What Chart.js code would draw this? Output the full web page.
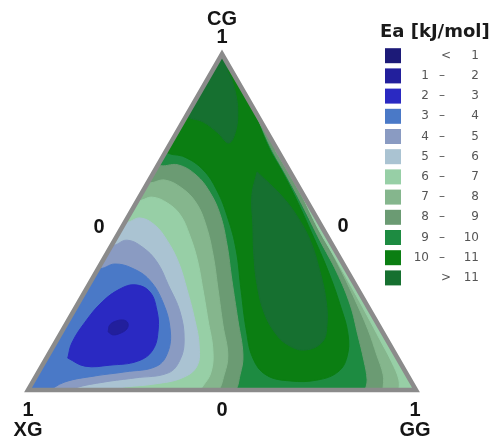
<!DOCTYPE html>
<html>
<head>
<meta charset="utf-8">
<script src="https://cdn.jsdelivr.net/npm/chart.js@4.4.0/dist/chart.umd.min.js"></script>
<style>
  html, body { margin: 0; padding: 0; background: #fff; }
  #wrap { width: 493px; height: 443px; }
</style>
</head>
<body>
<div id="wrap"><canvas id="myChart" width="493" height="443"></canvas></div>
<script>
// legend rows, top to bottom
var legendTitle = 'Ea [kJ/mol]';
var bandFrom = ['<', '1', '2', '3', '4', '5', '6', '7', '8', '9', '10', '>'];
var bandTo = ['1', '2', '3', '4', '5', '6', '7', '8', '9', '10', '11', '11'];
var bandColors = ['#1c1a78', '#221f9c', '#2a29c2', '#4a79c7', '#8a9bc2', '#aac3d2',
                  '#97cfa6', '#85b68d', '#6b9b73', '#1d8b41', '#0b7e12', '#167030'];

// corners (XG, GG, CG) and edge ticks
var cornerNames = ['XG', 'GG', 'CG'];
var cornerTick = '1';
var edgeTick = '0';

// contour regions, points are [GG, CG] (XG = 1 - GG - CG)
var triangle = [[0, 0], [1, 0], [0, 1]];
var edge89 = [[0.120, 0.878], [0.191, 0.804], [0.272, 0.714], [0.345, 0.640], [0.431, 0.551], [0.529, 0.446],
              [0.620, 0.351], [0.704, 0.253], [0.768, 0.164], [0.821, 0.089], [0.859, 0.030], [0.886, -0.030],
              [1.051, -0.030], [0.255, 0.893]];
var edge78 = [[0.280, 0.714], [0.355, 0.640], [0.434, 0.560], [0.529, 0.461], [0.622, 0.363], [0.709, 0.268],
              [0.787, 0.179], [0.847, 0.104], [0.893, 0.045], [0.938, -0.030], [1.051, -0.030], [0.380, 0.744]];
var edge67 = [[0.416, 0.580], [0.506, 0.482], [0.595, 0.393], [0.683, 0.304], [0.762, 0.223], [0.833, 0.149],
              [0.896, 0.083], [0.941, 0.030], [0.976, -0.030], [1.051, -0.030], [0.506, 0.595]];
var ridge10 = [[-0.098, 0.774], [0.002, 0.708], [0.058, 0.693], [0.124, 0.655], [0.189, 0.595], [0.259, 0.512],
               [0.328, 0.417], [0.400, 0.298], [0.473, 0.179], [0.532, 0.095], [0.591, 0.045], [0.662, 0.027],
               [0.732, 0.030], [0.772, 0.054], [0.773, 0.098], [0.743, 0.164], [0.678, 0.253], [0.594, 0.357],
               [0.503, 0.461], [0.410, 0.565], [0.331, 0.649], [0.261, 0.720], [0.194, 0.798], [0.140, 0.863],
               [0.089, 0.923], [0.025, 1.042], [-0.021, 1.042]];
var cap11 = [[-0.021, 1.042], [-0.053, 0.863], [0.002, 0.815], [0.052, 0.798], [0.107, 0.765], [0.150, 0.735],
             [0.149, 0.774], [0.124, 0.833], [0.097, 0.878], [0.064, 0.923], [0.036, 0.958], [0.025, 1.042]];
var ridge11 = [[0.266, 0.649], [0.300, 0.625], [0.362, 0.580], [0.431, 0.521], [0.504, 0.446], [0.573, 0.357],
               [0.634, 0.268], [0.674, 0.193], [0.687, 0.143], [0.654, 0.119], [0.603, 0.134], [0.552, 0.170],
               [0.492, 0.232], [0.434, 0.313], [0.381, 0.402], [0.334, 0.491], [0.287, 0.580], [0.266, 0.649]];
var basin9 = [[-0.135, 0.744], [0.000, 0.670], [0.052, 0.670], [0.113, 0.640], [0.174, 0.589], [0.235, 0.521],
              [0.297, 0.432], [0.362, 0.327], [0.437, 0.208], [0.502, 0.104], [0.524, 0.045], [0.534, -0.006],
              [0.497, -0.030], [-0.031, -0.030], [-0.076, 0.060]];
var basin8 = [[-0.105, 0.685], [-0.001, 0.619], [0.040, 0.625], [0.096, 0.601], [0.155, 0.557], [0.213, 0.491],
              [0.276, 0.402], [0.341, 0.298], [0.406, 0.193], [0.463, 0.104], [0.483, 0.045], [0.490, -0.006],
              [0.458, -0.030], [-0.031, -0.030], [-0.061, 0.030]];
var basin7 = [[-0.094, 0.610], [0.000, 0.565], [0.033, 0.574], [0.080, 0.557], [0.132, 0.521], [0.186, 0.461],
              [0.243, 0.387], [0.302, 0.298], [0.360, 0.208], [0.417, 0.119], [0.445, 0.054], [0.445, 0.012],
              [0.437, -0.015], [-0.031, -0.030], [-0.054, 0.015]];
var basin6 = [[-0.102, 0.551], [0.000, 0.500], [0.033, 0.512], [0.081, 0.491], [0.135, 0.446], [0.197, 0.381],
              [0.261, 0.298], [0.326, 0.208], [0.374, 0.134], [0.400, 0.071], [0.379, 0.036], [0.318, 0.018],
              [0.246, 0.009], [0.187, -0.003], [-0.031, -0.030], [-0.054, 0.015]];
var basin5 = [[-0.094, 0.482], [0.000, 0.432], [0.032, 0.446], [0.081, 0.426], [0.142, 0.381], [0.205, 0.313],
              [0.276, 0.232], [0.328, 0.149], [0.347, 0.089], [0.336, 0.051], [0.258, 0.036], [0.186, 0.024],
              [0.118, 0.006], [0.089, -0.015], [-0.031, -0.030], [-0.054, 0.015]];
var basin4 = [[-0.087, 0.417], [0.001, 0.363], [0.036, 0.375], [0.086, 0.363], [0.150, 0.327], [0.219, 0.259],
              [0.277, 0.179], [0.304, 0.113], [0.296, 0.071], [0.223, 0.054], [0.152, 0.042], [0.083, 0.024],
              [0.047, -0.006], [-0.031, -0.030], [-0.054, 0.015]];
var basin3 = [[0.055, 0.095], [0.043, 0.140], [0.046, 0.202], [0.060, 0.262], [0.087, 0.301], [0.120, 0.313],
              [0.168, 0.292], [0.213, 0.238], [0.246, 0.179], [0.262, 0.119], [0.240, 0.086], [0.174, 0.074],
              [0.111, 0.071], [0.055, 0.095]];
var basin2 = [[0.120, 0.173], [0.114, 0.193], [0.124, 0.205], [0.143, 0.208], [0.158, 0.199], [0.164, 0.182],
              [0.155, 0.170], [0.137, 0.164], [0.120, 0.173]];

// painting order, bottom first: [region, band index]
var layers = [[triangle, 9], [edge89, 8], [edge78, 7], [edge67, 6], [ridge10, 10], [cap11, 11], [ridge11, 11],
              [basin9, 8], [basin8, 7], [basin7, 6], [basin6, 5], [basin5, 4], [basin4, 3], [basin3, 2], [basin2, 1]];

function toXY(p) {
    return { x: p[0] + p[1] / 2, y: p[1] * Math.sqrt(3) / 2 };
}

function cornerPixels(chart) {
    var xs = chart.scales.x, ys = chart.scales.y;
    return triangle.map(function (p) {
        var q = toXY(p);
        return { x: xs.getPixelForValue(q.x), y: ys.getPixelForValue(q.y) };
    });
}

function trianglePath(ctx, c) {
    ctx.beginPath();
    ctx.moveTo(c[0].x, c[0].y);
    ctx.lineTo(c[1].x, c[1].y);
    ctx.lineTo(c[2].x, c[2].y);
    ctx.closePath();
}

// Chart.js paints dataset 0 last, so the list is reversed
var datasets = layers.map(function (l) {
    var col = bandColors[l[1]];
    return {
        data: l[0].map(toXY),
        showLine: true,
        fill: 'shape',
        backgroundColor: col,
        borderColor: col,
        borderWidth: 1,
        pointRadius: 0,
        tension: l[0] === triangle ? 0 : 0.4
    };
}).reverse();

var ternaryFrame = {
    id: 'ternaryFrame',
    beforeDatasetsDraw: function (chart) {
        var ctx = chart.ctx;
        ctx.save();
        trianglePath(ctx, cornerPixels(chart));
        ctx.clip();
    },
    afterDatasetsDraw: function (chart) {
        var ctx = chart.ctx;
        ctx.restore();
        ctx.save();
        trianglePath(ctx, cornerPixels(chart));
        ctx.lineWidth = 4.5;
        ctx.strokeStyle = '#8b8b8b';
        ctx.lineJoin = 'miter';
        ctx.stroke();
        ctx.restore();
    },
    afterDraw: function (chart) {
        var ctx = chart.ctx;
        var c = cornerPixels(chart);
        ctx.save();
        ctx.fillStyle = '#141414';
        ctx.textAlign = 'center';
        ctx.textBaseline = 'middle';
        ctx.font = 'bold 20px "Liberation Sans", Arial, sans-serif';
        // corner names and "1" ticks
        ctx.fillText(cornerTick, c[0].x, c[0].y + 20);
        ctx.fillText(cornerNames[0], c[0].x, c[0].y + 40);
        ctx.fillText(cornerTick, c[1].x - 1, c[1].y + 20);
        ctx.fillText(cornerNames[1], c[1].x - 1, c[1].y + 40);
        ctx.fillText(cornerTick, c[2].x, c[2].y - 17);
        ctx.fillText(cornerNames[2], c[2].x, c[2].y - 35);
        // "0" ticks at the edge midpoints
        ctx.fillText(edgeTick, (c[0].x + c[2].x) / 2 - 26, (c[0].y + c[2].y) / 2 + 5);
        ctx.fillText(edgeTick, (c[1].x + c[2].x) / 2 + 24, (c[1].y + c[2].y) / 2 + 4);
        ctx.fillText(edgeTick, (c[0].x + c[1].x) / 2, c[0].y + 20);

        // legend
        ctx.textAlign = 'left';
        ctx.fillStyle = '#1a1a1a';
        ctx.font = 'bold 18px "DejaVu Sans", sans-serif';
        ctx.fillText(legendTitle, 380, 32);
        ctx.font = '12px "DejaVu Sans", sans-serif';
        for (var i = 0; i < bandColors.length; i++) {
            var y = 55.7 + i * 20.2;
            ctx.fillStyle = bandColors[i];
            ctx.fillRect(385, y - 7.5, 16, 15);
            ctx.fillStyle = '#555';
            if (bandFrom[i] === '<' || bandFrom[i] === '>') {
                ctx.textAlign = 'center';
                ctx.fillText(bandFrom[i], 446, y);
            } else {
                ctx.textAlign = 'right';
                ctx.fillText(bandFrom[i], 429, y);
                ctx.textAlign = 'center';
                ctx.fillText('\u2013', 442, y);
            }
            ctx.textAlign = 'right';
            ctx.fillText(bandTo[i], 479, y);
        }
        ctx.restore();
    }
};

var ctx = document.getElementById('myChart').getContext('2d');
var myChart = new Chart(ctx, {
    type: 'scatter',
    data: { datasets: datasets },
    options: {
        responsive: false,
        animation: false,
        devicePixelRatio: 1,
        layout: { padding: { left: 28, right: 77, top: 54, bottom: 53 } },
        scales: {
            x: { type: 'linear', min: 0, max: 1, display: false },
            y: { type: 'linear', min: 0, max: Math.sqrt(3) / 2, display: false }
        },
        plugins: {
            legend: { display: false },
            tooltip: { enabled: false }
        }
    },
    plugins: [ternaryFrame]
});
</script>
</body>
</html>
